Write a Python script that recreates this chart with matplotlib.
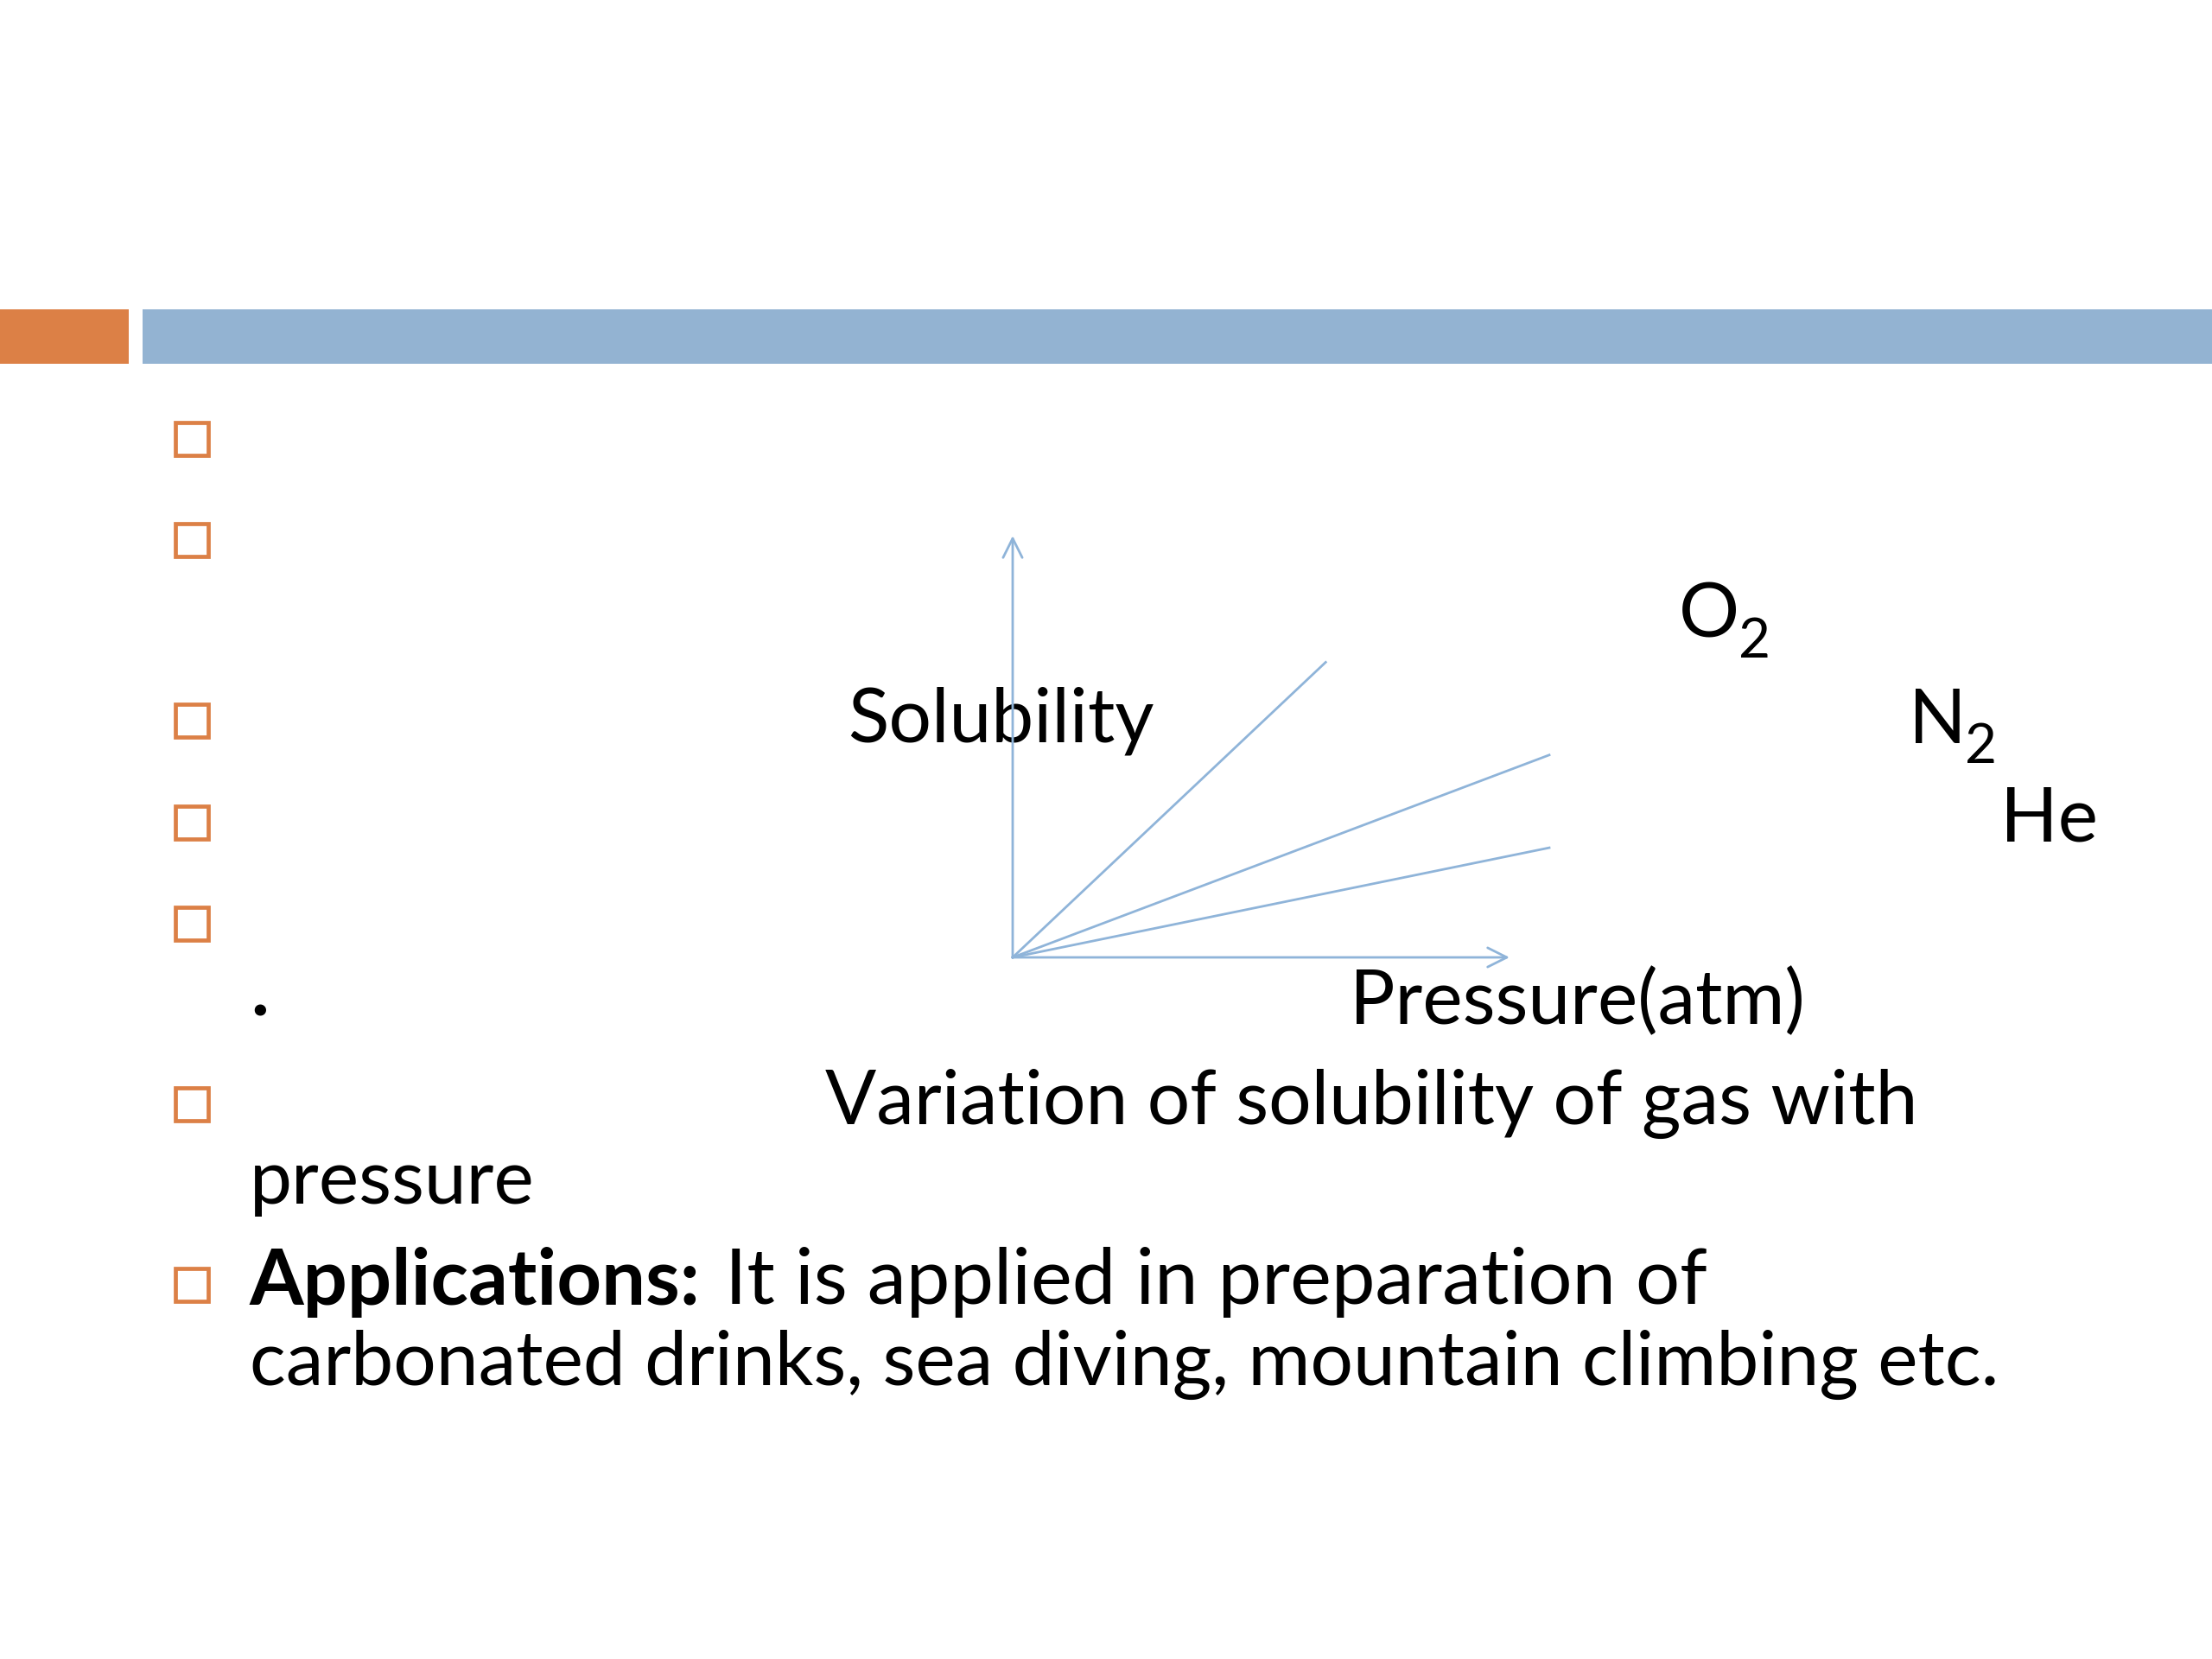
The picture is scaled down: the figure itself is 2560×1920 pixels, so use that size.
import matplotlib
matplotlib.use("Agg")
import matplotlib.pyplot as plt
from matplotlib.patches import Rectangle

plt.rcParams["font.family"] = ["Lato", "DejaVu Sans"]

W, H = 2560, 1920
ORANGE = "#DC8046"
BLUE = "#93B3D2"
LINE = "#8FB4D9"

# gases and end points of the solubility lines (pressure, solubility)
gases = ["O", "N", "He"]
gas_subs = ["2", "2", ""]
pressure_end = [6.3, 10.8, 10.8]
solubility_end = [7.0, 4.8, 2.6]

# bullets (slide rows) in pixel y
bullet_rows = [508, 625, 834, 952, 1069, 1278, 1487]

fig = plt.figure(figsize=(25.6, 19.2), dpi=100)
bg = fig.add_axes([0, 0, 1, 1])
bg.set_xlim(0, W)
bg.set_ylim(H, 0)
bg.axis("off")

# header bars
bg.add_patch(Rectangle((0, 358), 149, 63, color=ORANGE, lw=0))
bg.add_patch(Rectangle((165, 358), W - 165, 63, color=BLUE, lw=0))

# bullets
bg.plot([222] * len(bullet_rows), bullet_rows, "s", ms=27, mfc="none",
        mec=ORANGE, mew=3.4, ls="none")

fs = 63
bg.text(981, 859, "Solubility", fontsize=fs, va="baseline")
bg.text(1562, 1185, "Pressure(atm)", fontsize=fs, va="baseline")
bg.text(290, 1176, ".", fontsize=fs, fontweight="bold", va="baseline")
bg.text(955, 1301, "Variation of solubility of gas with", fontsize=fs, va="baseline")
bg.text(289, 1393, "pressure", fontsize=fs, va="baseline")
t = bg.text(289, 1510, "Applications:", fontsize=fs + 2, fontweight="bold", va="baseline")
bg.annotate(" It is applied in preparation of", xy=(1, 0), xycoords=t,
            xytext=(4, 0), textcoords="offset points",
            fontsize=fs + 2, va="bottom", ha="left")
bg.text(289, 1603, "carbonated drinks, sea diving, mountain climbing etc.",
        fontsize=fs, va="baseline")

label_pos = [(1943, 738), (2209, 860), (2315, 973)]
for lab, sub, (x, y) in zip(gases, gas_subs, label_pos):
    tl = bg.text(x, y, lab, fontsize=fs, va="baseline")
    if sub:
        bg.annotate(sub, xy=(1, 0), xycoords=tl, xytext=(-1, -14),
                    textcoords="offset points", fontsize=46, va="bottom")

# graph
x0, y0, x1, y1 = 1172, 1108, 1747, 620
ax = fig.add_axes([x0 / W, (H - y0) / H, (x1 - x0) / W, (y0 - y1) / H])
ax.set_xlim(0, 10)
ax.set_ylim(0, 10)
ax.axis("off")
for p, s in zip(pressure_end, solubility_end):
    ax.plot([0, p], [0, s], color=LINE, lw=2.0, clip_on=False)
ax.annotate("", xy=(1, 0), xytext=(0, 0), xycoords="axes fraction",
            arrowprops=dict(arrowstyle="->", color=LINE, lw=2.0,
                            mutation_scale=40, shrinkA=0, shrinkB=0))
ax.annotate("", xy=(0, 1), xytext=(0, 0), xycoords="axes fraction",
            arrowprops=dict(arrowstyle="->", color=LINE, lw=2.0,
                            mutation_scale=40, shrinkA=0, shrinkB=0))

fig.savefig("out.png", dpi=100)
